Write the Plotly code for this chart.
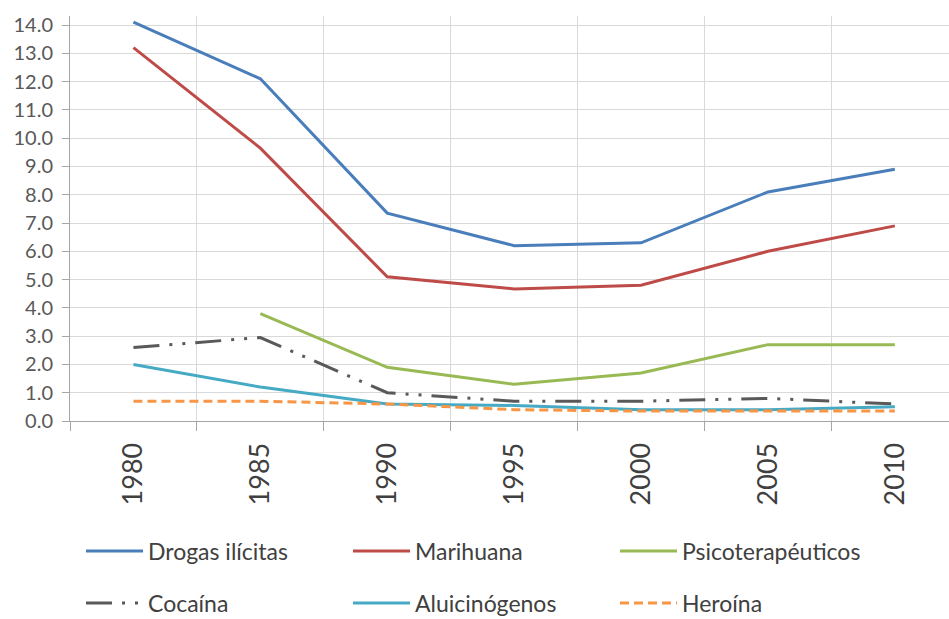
import plotly.graph_objects as go

# Survey years (category axis)
years = ["1980", "1985", "1990", "1995", "2000", "2005", "2010"]

# Prevalence (%) per substance
drogas_ilicitas = [14.1, 12.1, 7.35, 6.2, 6.3, 8.1, 8.9]
marihuana = [13.2, 9.65, 5.1, 4.67, 4.8, 6.0, 6.9]
psicoterapeuticos = [None, 3.8, 1.9, 1.3, 1.7, 2.7, 2.7]
cocaina = [2.6, 2.95, 1.0, 0.7, 0.7, 0.8, 0.6]
aluicinogenos = [2.0, 1.2, 0.6, 0.55, 0.4, 0.4, 0.5]
heroina = [0.7, 0.7, 0.6, 0.4, 0.35, 0.35, 0.35]

y_ticks = [float(v) for v in range(0, 15)]

FONT = "Lato, 'Open Sans', sans-serif"
TEXT = "#404040"
AXIS = "#A6A6A6"
GRID = "#D9D9D9"

x_pos = list(range(len(years)))

series = [
    ("Drogas ilícitas", drogas_ilicitas, "#4A7EBB", "solid", "legend"),
    ("Marihuana", marihuana, "#BE4B48", "solid", "legend"),
    ("Psicoterapéuticos", psicoterapeuticos, "#98B954", "solid", "legend"),
    ("Cocaína", cocaina, "#595959", "26px,10px,3px,10px,3px,10px", "legend2"),
    ("Aluicinógenos", aluicinogenos, "#46AAC5", "solid", "legend2"),
    ("Heroína", heroina, "#F79646", "9px,5px", "legend2"),
]

fig = go.Figure()
for name, vals, color, dash, leg in series:
    fig.add_trace(go.Scatter(
        x=x_pos, y=vals, name=name, mode="lines",
        line=dict(color=color, width=3, dash=dash),
        connectgaps=False, legend=leg,
    ))

W, H = 949, 619
L, R, T, B = 70, 0, 16, 198
plot_w = W - L - R
plot_h = H - T - B
slot = 126.9  # px per category
x_max = -0.5 + plot_w / slot

def px_to_paper_x(px):
    return (px - L) / plot_w

def py_to_paper_y(py):
    return (H - B - py) / plot_h

legend_common = dict(
    orientation="h", xanchor="left", yanchor="middle",
    font=dict(family=FONT, size=23, color=TEXT),
    entrywidth=195, entrywidthmode="pixels",
    itemwidth=57, bgcolor="rgba(0,0,0,0)",
    borderwidth=0, traceorder="normal",
    itemclick=False, itemdoubleclick=False,
)

fig.update_layout(
    width=W, height=H,
    autosize=False,
    margin=dict(l=L, r=R, t=T, b=B, pad=0, autoexpand=False),
    paper_bgcolor="white", plot_bgcolor="white",
    font=dict(family=FONT, color=TEXT),
    legend=dict(x=px_to_paper_x(81), y=py_to_paper_y(551), **legend_common),
    legend2=dict(x=px_to_paper_x(81), y=py_to_paper_y(603), **legend_common),
    xaxis=dict(
        range=[-0.5, x_max],
        automargin=False,
        tickmode="array", tickvals=x_pos, ticktext=years,
        tickangle=-90,
        ticks="outside", ticklen=10, tickcolor="rgba(0,0,0,0)",
        tickfont=dict(family=FONT, size=27, color=TEXT),
        showgrid=False, zeroline=False,
        showline=True, linecolor=AXIS, linewidth=1,
        minor=dict(
            tickmode="array",
            tickvals=[i - 0.5 for i in range(len(years) + 1)],
            ticks="outside", ticklen=9, tickcolor=AXIS, tickwidth=1,
            showgrid=True, gridcolor=GRID, gridwidth=1,
        ),
        fixedrange=True,
    ),
    yaxis=dict(
        range=[0, 14.32],
        automargin=False,
        tickmode="array", tickvals=y_ticks,
        tickformat=".1f",
        ticks="outside", ticklen=7, tickcolor=AXIS,
        ticklabelstandoff=5,
        tickfont=dict(family=FONT, size=20, color="#595959"),
        showgrid=True, gridcolor=GRID, gridwidth=1,
        zeroline=False,
        showline=True, linecolor=AXIS, linewidth=1,
        fixedrange=True,
    ),
)

fig.write_html("out.html")
